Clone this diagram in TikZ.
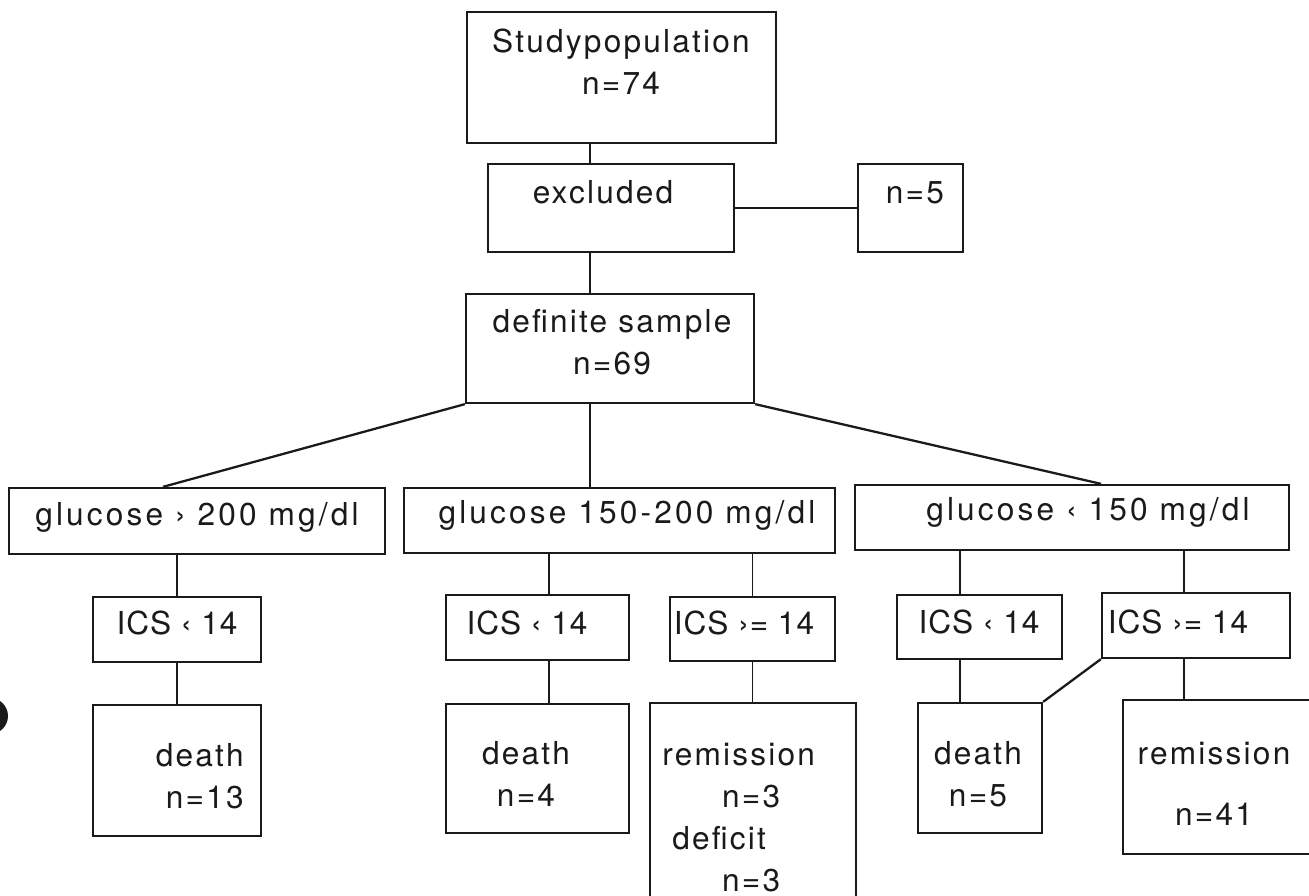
\documentclass[tikz,border=0pt]{standalone}
\usepackage{fontspec}
\setmainfont{TeX Gyre Heros}
\usepackage{tikz}
\usetikzlibrary{calc}
\definecolor{scanInk}{HTML}{1A1A1A}
\newcommand{\flowFont}{\fontsize{18}{24}\selectfont\addfontfeature{LetterSpace=7}}
\newcommand{\gluFont}{\fontsize{18}{24}\selectfont\addfontfeature{LetterSpace=10}}
\newcommand{\icsFont}{\fontsize{18}{24}\selectfont\addfontfeature{LetterSpace=3}}
\tikzset{
  flowBox/.style 2 args={
    draw=scanInk,
    line width=1.3pt,
    inner sep=0pt,
    minimum width=#1*0.02cm,
    minimum height=#2*0.02cm
  },
  flowText/.style={text=scanInk, font=\flowFont, align=center, inner sep=0pt},
  gluText/.style={flowText, font=\gluFont},
  icsText/.style={flowText, font=\icsFont},
  flowLine/.style={draw=scanInk, line width=0.9pt},
  fanLine/.style={draw=scanInk, line width=1.3pt}
}

\begin{document}
\begin{tikzpicture}[x=0.02cm,y=-0.02cm]
  \useasboundingbox (0,0) rectangle (1309,896);

  \node[flowBox={309}{131}] (studyPop) at (621.5,77.5) {};
  \node[flowBox={246}{88}]  (excluded) at (611,208) {};
  \node[flowBox={105}{88}]  (nFive)    at (910.5,208) {};
  \node[flowBox={288}{109}] (sample)   at (610,348.5) {};

  \node[flowBox={376}{66}] (gluHigh) at (197,521) {};
  \node[flowBox={431}{65}] (gluMid)  at (619.5,520.5) {};
  \node[flowBox={434}{65}] (gluLow)  at (1072,517.5) {};

  \node[flowBox={168}{65}] (icsA) at (177,629.5) {};
  \node[flowBox={183}{65}] (icsB) at (537.5,627.5) {};
  \node[flowBox={165}{64}] (icsC) at (752.5,629) {};
  \node[flowBox={165}{64}] (icsD) at (979.5,627) {};
  \node[flowBox={188}{65}] (icsE) at (1196,625.5) {};

  \node[flowBox={168}{131}] (deathA) at (177,770.5) {};
  \node[flowBox={183}{129}] (deathB) at (537.5,768.5) {};
  \node[flowBox={206}{212}] (remC)   at (753,809) {};
  \node[flowBox={124}{130}] (deathD) at (980,768) {};
  \node[flowBox={202}{154}] (remE)   at (1224,777) {};

  \node[flowText] (studyPopText) at (621,61.5) {Studypopulation\\n=74};
  \node[flowText] (excludedText) at (603,192) {excluded};
  \node[flowText] (nFiveText)    at (915,193) {n=5};
  \node[flowText] (sampleText)   at (612,342.5) {definite sample\\n=69};

  \node[gluText] (gluHighText) at (197,517) {glucose › 200 mg/dl};
  \node[gluText] (gluMidText)  at (627,515) {glucose 150-200 mg/dl};
  \node[gluText] (gluLowText)  at (1088,512) {glucose ‹ 150 mg/dl};

  \node[icsText] (icsAText) at (177,623) {ICS ‹ 14};
  \node[icsText] (icsBText) at (527,623) {ICS ‹ 14};
  \node[icsText] (icsCText) at (744,623) {ICS ›= 14};
  \node[icsText] (icsDText) at (979,622) {ICS ‹ 14};
  \node[icsText] (icsEText) at (1178,622) {ICS ›= 14};

  \node[flowText, align=right, anchor=east] (deathAText) at (244,776) {death\\n=13};
  \node[flowText] (deathBText) at (526,774) {death\\n=4};
  \node[flowText, align=left, anchor=west] (remCText) at (662,817.5)
    {remission\\\hspace*{34pt}n=3\\\hspace*{5.7pt}deficit\\\hspace*{34pt}n=3};
  \node[flowText] (deathDText) at (978,774.5) {death\\n=5};
  \node[flowText] (remEText)   at (1214,784) {remission\\[11pt]n=41};

  \coordinate (spine) at (590,0);
  \coordinate (fanL)  at (163,0);
  \coordinate (fanR)  at (1101,0);
  \coordinate (stemB) at (549,0);
  \coordinate (stemD) at (960,0);
  \coordinate (stemE) at (1184,0);

  \draw[flowLine] (studyPop.south -| spine) -- (excluded.north -| spine);
  \draw[fanLine] (excluded.east) -- (nFive.west);
  \draw[flowLine] (excluded.south -| spine) -- (sample.north -| spine);
  \draw[fanLine] (sample.south west) -- (gluHigh.north -| fanL);
  \draw[flowLine] (sample.south -| spine) -- (gluMid.north -| spine);
  \draw[fanLine] (sample.south east) -- (gluLow.north -| fanR);

  \draw[flowLine] (gluHigh.south -| icsA) -- (icsA.north);
  \draw[flowLine] (gluMid.south -| stemB) -- (icsB.north -| stemB);
  \draw[flowLine] (gluMid.south -| icsC) -- (icsC.north);
  \draw[flowLine] (gluLow.south -| stemD) -- (icsD.north -| stemD);
  \draw[flowLine] (gluLow.south -| stemE) -- (icsE.north -| stemE);

  \draw[flowLine] (icsA.south) -- (deathA.north -| icsA);
  \draw[flowLine] (icsB.south -| stemB) -- (deathB.north -| stemB);
  \draw[flowLine] (icsC.south) -- (remC.north -| icsC);
  \draw[flowLine] (icsD.south -| stemD) -- (deathD.north -| stemD);
  \draw[fanLine] (icsE.south west) -- (deathD.north east);
  \draw[flowLine] (icsE.south -| stemE) -- (remE.north -| stemE);

  \fill[scanInk] (-10,716) circle[radius=18];
\end{tikzpicture}
\end{document}
